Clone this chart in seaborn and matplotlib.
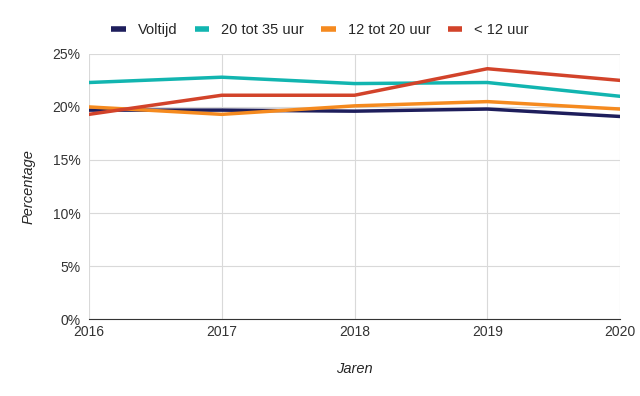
import pandas as pd
import seaborn as sns
import matplotlib.pyplot as plt
from matplotlib.ticker import FuncFormatter

years = [2016, 2017, 2018, 2019, 2020]
voltijd = [19.7, 19.7, 19.6, 19.8, 19.1]
uur_20_35 = [22.3, 22.8, 22.2, 22.3, 21.0]
uur_12_20 = [20.0, 19.3, 20.1, 20.5, 19.8]
uur_lt_12 = [19.3, 21.1, 21.1, 23.6, 22.5]

series = ["Voltijd", "20 tot 35 uur", "12 tot 20 uur", "< 12 uur"]
colors = ["#1e1e5c", "#12b5b0", "#f58a1f", "#d2432a"]

df = pd.DataFrame({"Jaar": years, series[0]: voltijd, series[1]: uur_20_35,
                   series[2]: uur_12_20, series[3]: uur_lt_12})
long = df.melt(id_vars="Jaar", var_name="Groep", value_name="Percentage")

sns.set_style("white")
plt.rcParams['font.family'] = ['Liberation Sans', 'DejaVu Sans']

fig = plt.figure(figsize=(6.4, 3.96), dpi=100)
ax = fig.add_axes([0.139, 0.194, 0.83, 0.67])
sns.lineplot(data=long, x="Jaar", y="Percentage", hue="Groep", hue_order=series,
             palette=colors, linewidth=2.5, ax=ax, legend=False)

ax.set_xlim(2016, 2020)
ax.set_ylim(0, 25)
ax.set_xticks(years)
ax.set_yticks([0, 5, 10, 15, 20, 25])
ax.yaxis.set_major_formatter(FuncFormatter(lambda v, p: f"{v:.0f}%"))
ax.grid(True, color="#d9d9d9", linewidth=0.8)
ax.set_axisbelow(True)
for s in ["top", "right", "left"]:
    ax.spines[s].set_visible(False)
ax.spines["bottom"].set_color("#333333")
ax.tick_params(length=0, labelsize=10, colors="#333333")
ax.tick_params(axis="x", pad=4)
ax.tick_params(axis="y", pad=6)
ax.set_xlabel("Jaren", fontstyle="italic", fontsize=10.5, labelpad=17)
ax.set_ylabel("Percentage", fontstyle="italic", fontsize=10.5, labelpad=12)

handles = [plt.Line2D([], [], color=c, linewidth=4, solid_capstyle="butt") for c in colors]
fig.legend(handles, series, loc="upper center", bbox_to_anchor=(0.5, 0.975), ncol=4,
           frameon=False, fontsize=10.5, handlelength=1.0, columnspacing=1.2,
           handletextpad=0.8)

fig.savefig("out.png", dpi=100)
